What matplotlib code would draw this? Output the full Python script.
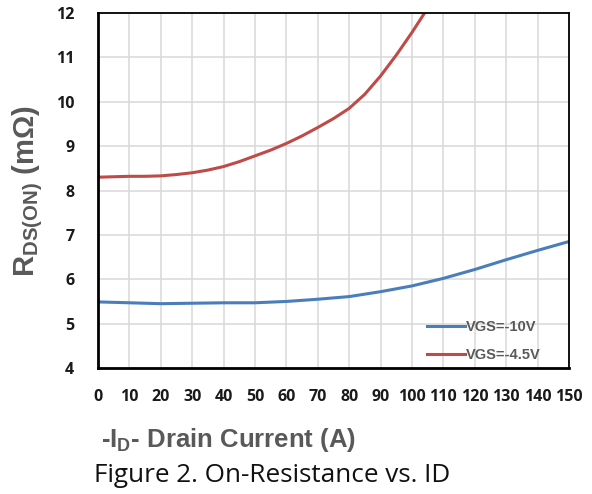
import matplotlib
matplotlib.use('Agg')
import matplotlib.pyplot as plt

plt.rcParams['mathtext.fontset'] = 'custom'
plt.rcParams['mathtext.rm'] = 'Liberation Sans'
plt.rcParams['mathtext.bf'] = 'Liberation Sans:bold'

# on-resistance readings, mOhm vs drain current, A
id_10v = [0, 10, 20, 30, 40, 50, 60, 70, 75, 80, 90, 100, 110, 120, 130, 140, 150]
rds_10v = [5.49, 5.47, 5.45, 5.46, 5.47, 5.47, 5.50, 5.55, 5.58, 5.61, 5.72, 5.85, 6.02, 6.22,
           6.44, 6.65, 6.85]
id_45v = [0, 5, 10, 15, 20, 25, 30, 35, 40, 45, 50, 55, 60, 65, 70, 75, 80, 85, 90, 95, 100, 104.2]
rds_45v = [8.30, 8.31, 8.32, 8.32, 8.33, 8.36, 8.40, 8.46, 8.54, 8.65, 8.78, 8.91, 9.06, 9.23,
           9.42, 9.62, 9.85, 10.17, 10.58, 11.05, 11.56, 12.02]

x_ticks = list(range(0, 151, 10))
y_ticks = list(range(4, 13))

fig = plt.figure(figsize=(5.92, 4.94), dpi=100)
ax = fig.add_axes([0.1655, 0.255, 0.7955, 0.7187])

ax.plot(id_10v, rds_10v, color='#4a7ebb', lw=2.2, label='VGS=-10V')
ax.plot(id_45v, rds_45v, color='#be4b48', lw=2.2, label='VGS=-4.5V')

ax.set_xlim(0, 150)
ax.set_ylim(4, 12)
ax.set_xticks(x_ticks)
ax.set_yticks(y_ticks)
ax.grid(True, color='#d9d9d9', lw=1.1)
ax.set_axisbelow(True)
ax.tick_params(length=0, labelsize=11.5, labelcolor='#1a1a1a')
ax.tick_params(axis='x', pad=15)
ax.tick_params(axis='y', pad=17)
for lab in ax.get_xticklabels() + ax.get_yticklabels():
    lab.set_fontweight('bold')
    lab.set_family('Open Sans')

for side in ['left', 'bottom']:
    ax.spines[side].set_linewidth(2.0)
for side in ['top', 'right']:
    ax.spines[side].set_linewidth(1.3)

leg = ax.legend(loc='center left', bbox_to_anchor=(0.683, 0.076), frameon=False,
                handlelength=2.6, handletextpad=0.1, borderpad=0, labelspacing=0.95,
                prop={'family': 'Liberation Sans', 'weight': 'bold', 'size': 10.5})
for t in leg.get_texts():
    t.set_color('#595959')

fig.text(0.047, 0.613, r'$\mathbf{R}_{\mathbf{DS(ON)}}$ (mΩ)', rotation=90, ha='center', va='center',
         color='#595959', fontsize=21, fontweight='bold', family='Liberation Sans')
fig.text(0.170, 0.095, r'-$\mathbf{I}_{\mathbf{D}}$- Drain Current (A)', ha='left', va='baseline',
         color='#595959', fontsize=18.5, fontweight='bold', family='Liberation Sans')
fig.text(0.158, 0.024, 'Figure 2. On-Resistance vs. ID', ha='left', va='baseline',
         color='#111111', fontsize=18.8, family='Open Sans')

fig.savefig('out.png', dpi=100)
